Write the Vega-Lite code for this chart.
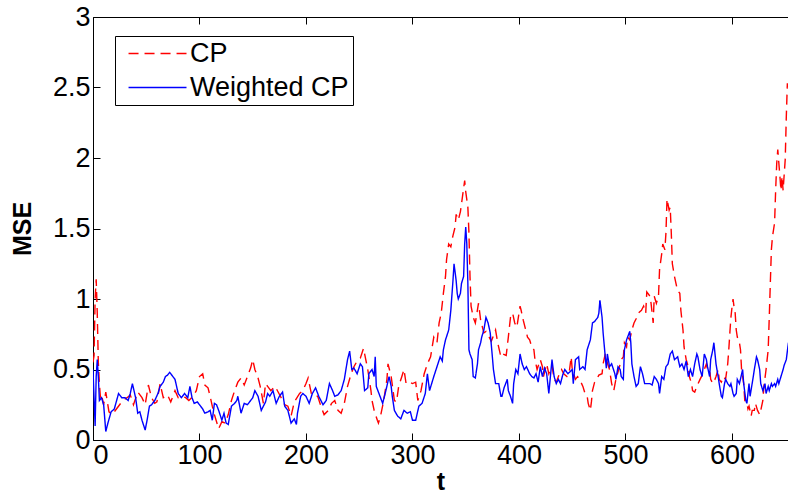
{
  "$schema": "https://vega.github.io/schema/vega-lite/v6.json",
  "width": 695,
  "height": 423,
  "autosize": {"type": "none"},
  "padding": {"left": 93, "top": 17, "right": 0, "bottom": 60},
  "background": "white",
  "config": {
    "view": {"stroke": null},
    "font": "Liberation Sans",
    "axis": {
      "grid": false,
      "domainColor": "black",
      "domainWidth": 1,
      "tickColor": "black",
      "tickWidth": 1,
      "tickSize": -7,
      "labelColor": "black",
      "labelFont": "Liberation Sans",
      "labelFontSize": 27,
      "titleFont": "Liberation Sans",
      "titleFontSize": 25,
      "titleFontWeight": "bold",
      "titleColor": "black"
    },
    "legend": {
      "orient": "none",
      "legendX": 22,
      "legendY": 19,
      "title": null,
      "symbolType": "M-0.33,0H4.5",
      "symbolSize": 576,
      "symbolStrokeWidth": 1.4,
      "labelFont": "Liberation Sans",
      "labelFontSize": 27,
      "labelColor": "black",
      "labelOffset": 44,
      "labelLimit": 400,
      "padding": 4,
      "rowPadding": 6,
      "strokeColor": "black",
      "fillColor": "white"
    }
  },
  "data": {
    "values": [
      {"t":0,"mse":0.55,"method":"CP"},{"t":1,"mse":0.6,"method":"CP"},{"t":2,"mse":1.0,"method":"CP"},{"t":3,"mse":1.14,"method":"CP"},{"t":4,"mse":0.9,"method":"CP"},{"t":5,"mse":0.55,"method":"CP"},{"t":6,"mse":0.4,"method":"CP"},{"t":7,"mse":0.3,"method":"CP"},{"t":8,"mse":0.32,"method":"CP"},{"t":10,"mse":0.25,"method":"CP"},{"t":12,"mse":0.34,"method":"CP"},{"t":15,"mse":0.2,"method":"CP"},{"t":18,"mse":0.18,"method":"CP"},{"t":22,"mse":0.22,"method":"CP"},{"t":25,"mse":0.25,"method":"CP"},{"t":28,"mse":0.28,"method":"CP"},{"t":32,"mse":0.3,"method":"CP"},{"t":35,"mse":0.32,"method":"CP"},{"t":38,"mse":0.25,"method":"CP"},{"t":42,"mse":0.34,"method":"CP"},{"t":46,"mse":0.3,"method":"CP"},{"t":49,"mse":0.25,"method":"CP"},{"t":52,"mse":0.39,"method":"CP"},{"t":55,"mse":0.3,"method":"CP"},{"t":58,"mse":0.26,"method":"CP"},{"t":60,"mse":0.27,"method":"CP"},{"t":63,"mse":0.4,"method":"CP"},{"t":66,"mse":0.3,"method":"CP"},{"t":70,"mse":0.32,"method":"CP"},{"t":73,"mse":0.27,"method":"CP"},{"t":77,"mse":0.35,"method":"CP"},{"t":80,"mse":0.3,"method":"CP"},{"t":84,"mse":0.31,"method":"CP"},{"t":87,"mse":0.3,"method":"CP"},{"t":90,"mse":0.28,"method":"CP"},{"t":94,"mse":0.31,"method":"CP"},{"t":97,"mse":0.35,"method":"CP"},{"t":100,"mse":0.45,"method":"CP"},{"t":103,"mse":0.47,"method":"CP"},{"t":105,"mse":0.39,"method":"CP"},{"t":108,"mse":0.37,"method":"CP"},{"t":110,"mse":0.31,"method":"CP"},{"t":112,"mse":0.24,"method":"CP"},{"t":114,"mse":0.18,"method":"CP"},{"t":118,"mse":0.08,"method":"CP"},{"t":121,"mse":0.13,"method":"CP"},{"t":124,"mse":0.12,"method":"CP"},{"t":127,"mse":0.18,"method":"CP"},{"t":130,"mse":0.28,"method":"CP"},{"t":133,"mse":0.35,"method":"CP"},{"t":136,"mse":0.41,"method":"CP"},{"t":139,"mse":0.44,"method":"CP"},{"t":142,"mse":0.39,"method":"CP"},{"t":145,"mse":0.45,"method":"CP"},{"t":148,"mse":0.51,"method":"CP"},{"t":150,"mse":0.57,"method":"CP"},{"t":152,"mse":0.5,"method":"CP"},{"t":155,"mse":0.44,"method":"CP"},{"t":157,"mse":0.38,"method":"CP"},{"t":160,"mse":0.26,"method":"CP"},{"t":162,"mse":0.4,"method":"CP"},{"t":164,"mse":0.38,"method":"CP"},{"t":167,"mse":0.35,"method":"CP"},{"t":171,"mse":0.38,"method":"CP"},{"t":176,"mse":0.31,"method":"CP"},{"t":180,"mse":0.25,"method":"CP"},{"t":183,"mse":0.24,"method":"CP"},{"t":186,"mse":0.17,"method":"CP"},{"t":189,"mse":0.27,"method":"CP"},{"t":194,"mse":0.33,"method":"CP"},{"t":197,"mse":0.35,"method":"CP"},{"t":200,"mse":0.4,"method":"CP"},{"t":202,"mse":0.44,"method":"CP"},{"t":205,"mse":0.33,"method":"CP"},{"t":208,"mse":0.31,"method":"CP"},{"t":211,"mse":0.31,"method":"CP"},{"t":214,"mse":0.24,"method":"CP"},{"t":217,"mse":0.18,"method":"CP"},{"t":221,"mse":0.21,"method":"CP"},{"t":224,"mse":0.26,"method":"CP"},{"t":227,"mse":0.28,"method":"CP"},{"t":230,"mse":0.21,"method":"CP"},{"t":233,"mse":0.19,"method":"CP"},{"t":236,"mse":0.26,"method":"CP"},{"t":239,"mse":0.38,"method":"CP"},{"t":242,"mse":0.46,"method":"CP"},{"t":245,"mse":0.52,"method":"CP"},{"t":248,"mse":0.56,"method":"CP"},{"t":251,"mse":0.58,"method":"CP"},{"t":254,"mse":0.65,"method":"CP"},{"t":258,"mse":0.5,"method":"CP"},{"t":261,"mse":0.35,"method":"CP"},{"t":262,"mse":0.28,"method":"CP"},{"t":264,"mse":0.21,"method":"CP"},{"t":267,"mse":0.14,"method":"CP"},{"t":268,"mse":0.12,"method":"CP"},{"t":270,"mse":0.17,"method":"CP"},{"t":273,"mse":0.28,"method":"CP"},{"t":276,"mse":0.43,"method":"CP"},{"t":277,"mse":0.54,"method":"CP"},{"t":280,"mse":0.45,"method":"CP"},{"t":283,"mse":0.28,"method":"CP"},{"t":285,"mse":0.27,"method":"CP"},{"t":287,"mse":0.38,"method":"CP"},{"t":290,"mse":0.45,"method":"CP"},{"t":292,"mse":0.5,"method":"CP"},{"t":294,"mse":0.4,"method":"CP"},{"t":297,"mse":0.41,"method":"CP"},{"t":300,"mse":0.4,"method":"CP"},{"t":303,"mse":0.41,"method":"CP"},{"t":305,"mse":0.28,"method":"CP"},{"t":308,"mse":0.35,"method":"CP"},{"t":311,"mse":0.47,"method":"CP"},{"t":314,"mse":0.54,"method":"CP"},{"t":317,"mse":0.59,"method":"CP"},{"t":320,"mse":0.73,"method":"CP"},{"t":323,"mse":0.69,"method":"CP"},{"t":325,"mse":0.83,"method":"CP"},{"t":327,"mse":0.9,"method":"CP"},{"t":329,"mse":1.04,"method":"CP"},{"t":331,"mse":1.16,"method":"CP"},{"t":332,"mse":1.28,"method":"CP"},{"t":334,"mse":1.39,"method":"CP"},{"t":336,"mse":1.37,"method":"CP"},{"t":338,"mse":1.45,"method":"CP"},{"t":340,"mse":1.51,"method":"CP"},{"t":341,"mse":1.6,"method":"CP"},{"t":343,"mse":1.56,"method":"CP"},{"t":345,"mse":1.62,"method":"CP"},{"t":347,"mse":1.73,"method":"CP"},{"t":349,"mse":1.84,"method":"CP"},{"t":350,"mse":1.76,"method":"CP"},{"t":352,"mse":1.65,"method":"CP"},{"t":353,"mse":1.47,"method":"CP"},{"t":354,"mse":1.16,"method":"CP"},{"t":355,"mse":0.95,"method":"CP"},{"t":357,"mse":0.87,"method":"CP"},{"t":359,"mse":0.83,"method":"CP"},{"t":362,"mse":0.97,"method":"CP"},{"t":364,"mse":0.85,"method":"CP"},{"t":367,"mse":0.76,"method":"CP"},{"t":369,"mse":0.77,"method":"CP"},{"t":372,"mse":0.73,"method":"CP"},{"t":374,"mse":0.7,"method":"CP"},{"t":378,"mse":0.78,"method":"CP"},{"t":380,"mse":0.69,"method":"CP"},{"t":383,"mse":0.59,"method":"CP"},{"t":385,"mse":0.61,"method":"CP"},{"t":388,"mse":0.6,"method":"CP"},{"t":390,"mse":0.73,"method":"CP"},{"t":392,"mse":0.87,"method":"CP"},{"t":394,"mse":0.9,"method":"CP"},{"t":396,"mse":0.83,"method":"CP"},{"t":398,"mse":0.8,"method":"CP"},{"t":401,"mse":0.95,"method":"CP"},{"t":402,"mse":0.92,"method":"CP"},{"t":404,"mse":0.85,"method":"CP"},{"t":408,"mse":0.73,"method":"CP"},{"t":410,"mse":0.71,"method":"CP"},{"t":412,"mse":0.66,"method":"CP"},{"t":414,"mse":0.64,"method":"CP"},{"t":415,"mse":0.57,"method":"CP"},{"t":417,"mse":0.5,"method":"CP"},{"t":420,"mse":0.57,"method":"CP"},{"t":422,"mse":0.52,"method":"CP"},{"t":423,"mse":0.45,"method":"CP"},{"t":426,"mse":0.54,"method":"CP"},{"t":428,"mse":0.47,"method":"CP"},{"t":431,"mse":0.53,"method":"CP"},{"t":433,"mse":0.43,"method":"CP"},{"t":435,"mse":0.41,"method":"CP"},{"t":438,"mse":0.47,"method":"CP"},{"t":440,"mse":0.5,"method":"CP"},{"t":442,"mse":0.47,"method":"CP"},{"t":445,"mse":0.45,"method":"CP"},{"t":447,"mse":0.47,"method":"CP"},{"t":449,"mse":0.59,"method":"CP"},{"t":450,"mse":0.5,"method":"CP"},{"t":453,"mse":0.43,"method":"CP"},{"t":455,"mse":0.45,"method":"CP"},{"t":457,"mse":0.43,"method":"CP"},{"t":460,"mse":0.38,"method":"CP"},{"t":462,"mse":0.33,"method":"CP"},{"t":464,"mse":0.31,"method":"CP"},{"t":465,"mse":0.26,"method":"CP"},{"t":467,"mse":0.21,"method":"CP"},{"t":468,"mse":0.27,"method":"CP"},{"t":469,"mse":0.35,"method":"CP"},{"t":471,"mse":0.41,"method":"CP"},{"t":473,"mse":0.43,"method":"CP"},{"t":475,"mse":0.46,"method":"CP"},{"t":478,"mse":0.47,"method":"CP"},{"t":479,"mse":0.54,"method":"CP"},{"t":481,"mse":0.61,"method":"CP"},{"t":482,"mse":0.57,"method":"CP"},{"t":485,"mse":0.5,"method":"CP"},{"t":487,"mse":0.4,"method":"CP"},{"t":489,"mse":0.35,"method":"CP"},{"t":491,"mse":0.43,"method":"CP"},{"t":494,"mse":0.51,"method":"CP"},{"t":496,"mse":0.57,"method":"CP"},{"t":498,"mse":0.59,"method":"CP"},{"t":499,"mse":0.69,"method":"CP"},{"t":501,"mse":0.66,"method":"CP"},{"t":502,"mse":0.73,"method":"CP"},{"t":504,"mse":0.71,"method":"CP"},{"t":506,"mse":0.78,"method":"CP"},{"t":508,"mse":0.83,"method":"CP"},{"t":510,"mse":0.86,"method":"CP"},{"t":512,"mse":0.9,"method":"CP"},{"t":515,"mse":0.92,"method":"CP"},{"t":517,"mse":0.95,"method":"CP"},{"t":519,"mse":0.9,"method":"CP"},{"t":520,"mse":1.05,"method":"CP"},{"t":523,"mse":1.02,"method":"CP"},{"t":524,"mse":0.97,"method":"CP"},{"t":526,"mse":0.83,"method":"CP"},{"t":527,"mse":1.02,"method":"CP"},{"t":529,"mse":0.97,"method":"CP"},{"t":531,"mse":1.02,"method":"CP"},{"t":532,"mse":1.21,"method":"CP"},{"t":534,"mse":1.32,"method":"CP"},{"t":535,"mse":1.39,"method":"CP"},{"t":537,"mse":1.35,"method":"CP"},{"t":538,"mse":1.47,"method":"CP"},{"t":539,"mse":1.71,"method":"CP"},{"t":541,"mse":1.63,"method":"CP"},{"t":542,"mse":1.65,"method":"CP"},{"t":543,"mse":1.47,"method":"CP"},{"t":544,"mse":1.25,"method":"CP"},{"t":546,"mse":1.16,"method":"CP"},{"t":548,"mse":1.09,"method":"CP"},{"t":549,"mse":1.06,"method":"CP"},{"t":551,"mse":1.04,"method":"CP"},{"t":552,"mse":0.92,"method":"CP"},{"t":554,"mse":0.78,"method":"CP"},{"t":555,"mse":0.66,"method":"CP"},{"t":557,"mse":0.57,"method":"CP"},{"t":559,"mse":0.52,"method":"CP"},{"t":560,"mse":0.45,"method":"CP"},{"t":562,"mse":0.4,"method":"CP"},{"t":563,"mse":0.35,"method":"CP"},{"t":565,"mse":0.34,"method":"CP"},{"t":567,"mse":0.38,"method":"CP"},{"t":570,"mse":0.43,"method":"CP"},{"t":572,"mse":0.46,"method":"CP"},{"t":574,"mse":0.5,"method":"CP"},{"t":576,"mse":0.54,"method":"CP"},{"t":577,"mse":0.5,"method":"CP"},{"t":579,"mse":0.5,"method":"CP"},{"t":580,"mse":0.43,"method":"CP"},{"t":582,"mse":0.4,"method":"CP"},{"t":584,"mse":0.43,"method":"CP"},{"t":585,"mse":0.45,"method":"CP"},{"t":587,"mse":0.5,"method":"CP"},{"t":588,"mse":0.43,"method":"CP"},{"t":590,"mse":0.41,"method":"CP"},{"t":592,"mse":0.45,"method":"CP"},{"t":594,"mse":0.43,"method":"CP"},{"t":596,"mse":0.54,"method":"CP"},{"t":597,"mse":0.64,"method":"CP"},{"t":598,"mse":0.76,"method":"CP"},{"t":599,"mse":0.87,"method":"CP"},{"t":600,"mse":0.94,"method":"CP"},{"t":601,"mse":1.0,"method":"CP"},{"t":602,"mse":0.94,"method":"CP"},{"t":603,"mse":0.9,"method":"CP"},{"t":604,"mse":0.78,"method":"CP"},{"t":605,"mse":0.73,"method":"CP"},{"t":607,"mse":0.69,"method":"CP"},{"t":608,"mse":0.64,"method":"CP"},{"t":609,"mse":0.5,"method":"CP"},{"t":611,"mse":0.4,"method":"CP"},{"t":612,"mse":0.28,"method":"CP"},{"t":614,"mse":0.26,"method":"CP"},{"t":615,"mse":0.22,"method":"CP"},{"t":616,"mse":0.24,"method":"CP"},{"t":618,"mse":0.17,"method":"CP"},{"t":619,"mse":0.21,"method":"CP"},{"t":621,"mse":0.21,"method":"CP"},{"t":622,"mse":0.26,"method":"CP"},{"t":624,"mse":0.21,"method":"CP"},{"t":626,"mse":0.18,"method":"CP"},{"t":627,"mse":0.21,"method":"CP"},{"t":629,"mse":0.28,"method":"CP"},{"t":630,"mse":0.38,"method":"CP"},{"t":632,"mse":0.5,"method":"CP"},{"t":634,"mse":0.64,"method":"CP"},{"t":635,"mse":0.87,"method":"CP"},{"t":636,"mse":1.11,"method":"CP"},{"t":637,"mse":1.35,"method":"CP"},{"t":638,"mse":1.44,"method":"CP"},{"t":640,"mse":1.54,"method":"CP"},{"t":641,"mse":1.77,"method":"CP"},{"t":642,"mse":1.96,"method":"CP"},{"t":643,"mse":2.06,"method":"CP"},{"t":645,"mse":1.87,"method":"CP"},{"t":646,"mse":1.77,"method":"CP"},{"t":647,"mse":1.87,"method":"CP"},{"t":648,"mse":1.77,"method":"CP"},{"t":650,"mse":1.99,"method":"CP"},{"t":651,"mse":2.29,"method":"CP"},{"t":652,"mse":2.53,"method":"CP"},{"t":653,"mse":2.46,"method":"CP"},
      {"t":0,"mse":0.5,"method":"Weighted CP"},{"t":1,"mse":0.3,"method":"Weighted CP"},{"t":2,"mse":0.1,"method":"Weighted CP"},{"t":3,"mse":0.45,"method":"Weighted CP"},{"t":4,"mse":0.57,"method":"Weighted CP"},{"t":5,"mse":0.45,"method":"Weighted CP"},{"t":6,"mse":0.28,"method":"Weighted CP"},{"t":8,"mse":0.3,"method":"Weighted CP"},{"t":10,"mse":0.25,"method":"Weighted CP"},{"t":12,"mse":0.06,"method":"Weighted CP"},{"t":14,"mse":0.12,"method":"Weighted CP"},{"t":17,"mse":0.2,"method":"Weighted CP"},{"t":20,"mse":0.22,"method":"Weighted CP"},{"t":24,"mse":0.33,"method":"Weighted CP"},{"t":27,"mse":0.3,"method":"Weighted CP"},{"t":30,"mse":0.3,"method":"Weighted CP"},{"t":33,"mse":0.28,"method":"Weighted CP"},{"t":35,"mse":0.33,"method":"Weighted CP"},{"t":37,"mse":0.4,"method":"Weighted CP"},{"t":40,"mse":0.3,"method":"Weighted CP"},{"t":42,"mse":0.19,"method":"Weighted CP"},{"t":44,"mse":0.2,"method":"Weighted CP"},{"t":46,"mse":0.14,"method":"Weighted CP"},{"t":49,"mse":0.07,"method":"Weighted CP"},{"t":51,"mse":0.15,"method":"Weighted CP"},{"t":53,"mse":0.24,"method":"Weighted CP"},{"t":55,"mse":0.25,"method":"Weighted CP"},{"t":58,"mse":0.28,"method":"Weighted CP"},{"t":61,"mse":0.33,"method":"Weighted CP"},{"t":63,"mse":0.38,"method":"Weighted CP"},{"t":66,"mse":0.41,"method":"Weighted CP"},{"t":68,"mse":0.45,"method":"Weighted CP"},{"t":70,"mse":0.46,"method":"Weighted CP"},{"t":72,"mse":0.48,"method":"Weighted CP"},{"t":75,"mse":0.45,"method":"Weighted CP"},{"t":77,"mse":0.43,"method":"Weighted CP"},{"t":80,"mse":0.33,"method":"Weighted CP"},{"t":83,"mse":0.3,"method":"Weighted CP"},{"t":86,"mse":0.33,"method":"Weighted CP"},{"t":89,"mse":0.3,"method":"Weighted CP"},{"t":91,"mse":0.38,"method":"Weighted CP"},{"t":93,"mse":0.3,"method":"Weighted CP"},{"t":95,"mse":0.26,"method":"Weighted CP"},{"t":98,"mse":0.27,"method":"Weighted CP"},{"t":100,"mse":0.25,"method":"Weighted CP"},{"t":103,"mse":0.22,"method":"Weighted CP"},{"t":105,"mse":0.19,"method":"Weighted CP"},{"t":108,"mse":0.2,"method":"Weighted CP"},{"t":110,"mse":0.21,"method":"Weighted CP"},{"t":112,"mse":0.14,"method":"Weighted CP"},{"t":114,"mse":0.26,"method":"Weighted CP"},{"t":116,"mse":0.25,"method":"Weighted CP"},{"t":118,"mse":0.21,"method":"Weighted CP"},{"t":121,"mse":0.14,"method":"Weighted CP"},{"t":123,"mse":0.19,"method":"Weighted CP"},{"t":125,"mse":0.12,"method":"Weighted CP"},{"t":127,"mse":0.11,"method":"Weighted CP"},{"t":130,"mse":0.24,"method":"Weighted CP"},{"t":133,"mse":0.26,"method":"Weighted CP"},{"t":135,"mse":0.28,"method":"Weighted CP"},{"t":136,"mse":0.31,"method":"Weighted CP"},{"t":139,"mse":0.19,"method":"Weighted CP"},{"t":142,"mse":0.26,"method":"Weighted CP"},{"t":145,"mse":0.25,"method":"Weighted CP"},{"t":147,"mse":0.27,"method":"Weighted CP"},{"t":150,"mse":0.3,"method":"Weighted CP"},{"t":152,"mse":0.35,"method":"Weighted CP"},{"t":155,"mse":0.31,"method":"Weighted CP"},{"t":158,"mse":0.21,"method":"Weighted CP"},{"t":160,"mse":0.24,"method":"Weighted CP"},{"t":162,"mse":0.27,"method":"Weighted CP"},{"t":164,"mse":0.33,"method":"Weighted CP"},{"t":166,"mse":0.31,"method":"Weighted CP"},{"t":169,"mse":0.35,"method":"Weighted CP"},{"t":172,"mse":0.26,"method":"Weighted CP"},{"t":175,"mse":0.31,"method":"Weighted CP"},{"t":178,"mse":0.34,"method":"Weighted CP"},{"t":180,"mse":0.24,"method":"Weighted CP"},{"t":183,"mse":0.21,"method":"Weighted CP"},{"t":186,"mse":0.12,"method":"Weighted CP"},{"t":189,"mse":0.15,"method":"Weighted CP"},{"t":191,"mse":0.11,"method":"Weighted CP"},{"t":192,"mse":0.19,"method":"Weighted CP"},{"t":195,"mse":0.31,"method":"Weighted CP"},{"t":197,"mse":0.33,"method":"Weighted CP"},{"t":200,"mse":0.31,"method":"Weighted CP"},{"t":203,"mse":0.26,"method":"Weighted CP"},{"t":206,"mse":0.33,"method":"Weighted CP"},{"t":209,"mse":0.37,"method":"Weighted CP"},{"t":212,"mse":0.31,"method":"Weighted CP"},{"t":216,"mse":0.25,"method":"Weighted CP"},{"t":219,"mse":0.28,"method":"Weighted CP"},{"t":222,"mse":0.4,"method":"Weighted CP"},{"t":225,"mse":0.35,"method":"Weighted CP"},{"t":227,"mse":0.31,"method":"Weighted CP"},{"t":230,"mse":0.32,"method":"Weighted CP"},{"t":233,"mse":0.35,"method":"Weighted CP"},{"t":236,"mse":0.43,"method":"Weighted CP"},{"t":239,"mse":0.57,"method":"Weighted CP"},{"t":241,"mse":0.63,"method":"Weighted CP"},{"t":243,"mse":0.5,"method":"Weighted CP"},{"t":245,"mse":0.51,"method":"Weighted CP"},{"t":248,"mse":0.47,"method":"Weighted CP"},{"t":251,"mse":0.54,"method":"Weighted CP"},{"t":253,"mse":0.52,"method":"Weighted CP"},{"t":255,"mse":0.35,"method":"Weighted CP"},{"t":258,"mse":0.37,"method":"Weighted CP"},{"t":259,"mse":0.47,"method":"Weighted CP"},{"t":262,"mse":0.5,"method":"Weighted CP"},{"t":264,"mse":0.45,"method":"Weighted CP"},{"t":265,"mse":0.59,"method":"Weighted CP"},{"t":266,"mse":0.38,"method":"Weighted CP"},{"t":268,"mse":0.34,"method":"Weighted CP"},{"t":272,"mse":0.26,"method":"Weighted CP"},{"t":275,"mse":0.35,"method":"Weighted CP"},{"t":278,"mse":0.45,"method":"Weighted CP"},{"t":280,"mse":0.38,"method":"Weighted CP"},{"t":281,"mse":0.31,"method":"Weighted CP"},{"t":283,"mse":0.21,"method":"Weighted CP"},{"t":286,"mse":0.17,"method":"Weighted CP"},{"t":289,"mse":0.15,"method":"Weighted CP"},{"t":292,"mse":0.21,"method":"Weighted CP"},{"t":295,"mse":0.19,"method":"Weighted CP"},{"t":298,"mse":0.2,"method":"Weighted CP"},{"t":300,"mse":0.14,"method":"Weighted CP"},{"t":303,"mse":0.14,"method":"Weighted CP"},{"t":306,"mse":0.24,"method":"Weighted CP"},{"t":309,"mse":0.26,"method":"Weighted CP"},{"t":312,"mse":0.33,"method":"Weighted CP"},{"t":314,"mse":0.47,"method":"Weighted CP"},{"t":316,"mse":0.35,"method":"Weighted CP"},{"t":320,"mse":0.45,"method":"Weighted CP"},{"t":323,"mse":0.52,"method":"Weighted CP"},{"t":326,"mse":0.59,"method":"Weighted CP"},{"t":328,"mse":0.56,"method":"Weighted CP"},{"t":329,"mse":0.64,"method":"Weighted CP"},{"t":331,"mse":0.71,"method":"Weighted CP"},{"t":334,"mse":0.78,"method":"Weighted CP"},{"t":336,"mse":0.92,"method":"Weighted CP"},{"t":338,"mse":1.13,"method":"Weighted CP"},{"t":339,"mse":1.25,"method":"Weighted CP"},{"t":341,"mse":1.13,"method":"Weighted CP"},{"t":342,"mse":1.04,"method":"Weighted CP"},{"t":343,"mse":1.0,"method":"Weighted CP"},{"t":345,"mse":1.04,"method":"Weighted CP"},{"t":346,"mse":1.11,"method":"Weighted CP"},{"t":348,"mse":1.16,"method":"Weighted CP"},{"t":349,"mse":1.39,"method":"Weighted CP"},{"t":350,"mse":1.51,"method":"Weighted CP"},{"t":351,"mse":1.39,"method":"Weighted CP"},{"t":352,"mse":1.11,"method":"Weighted CP"},{"t":353,"mse":0.64,"method":"Weighted CP"},{"t":354,"mse":0.61,"method":"Weighted CP"},{"t":356,"mse":0.57,"method":"Weighted CP"},{"t":357,"mse":0.45,"method":"Weighted CP"},{"t":359,"mse":0.44,"method":"Weighted CP"},{"t":361,"mse":0.54,"method":"Weighted CP"},{"t":362,"mse":0.64,"method":"Weighted CP"},{"t":364,"mse":0.69,"method":"Weighted CP"},{"t":365,"mse":0.73,"method":"Weighted CP"},{"t":367,"mse":0.78,"method":"Weighted CP"},{"t":369,"mse":0.87,"method":"Weighted CP"},{"t":371,"mse":0.83,"method":"Weighted CP"},{"t":373,"mse":0.76,"method":"Weighted CP"},{"t":375,"mse":0.59,"method":"Weighted CP"},{"t":376,"mse":0.5,"method":"Weighted CP"},{"t":378,"mse":0.4,"method":"Weighted CP"},{"t":381,"mse":0.4,"method":"Weighted CP"},{"t":383,"mse":0.31,"method":"Weighted CP"},{"t":384,"mse":0.31,"method":"Weighted CP"},{"t":386,"mse":0.37,"method":"Weighted CP"},{"t":389,"mse":0.43,"method":"Weighted CP"},{"t":390,"mse":0.35,"method":"Weighted CP"},{"t":392,"mse":0.31,"method":"Weighted CP"},{"t":394,"mse":0.26,"method":"Weighted CP"},{"t":395,"mse":0.4,"method":"Weighted CP"},{"t":397,"mse":0.5,"method":"Weighted CP"},{"t":399,"mse":0.47,"method":"Weighted CP"},{"t":401,"mse":0.61,"method":"Weighted CP"},{"t":403,"mse":0.54,"method":"Weighted CP"},{"t":405,"mse":0.5,"method":"Weighted CP"},{"t":407,"mse":0.52,"method":"Weighted CP"},{"t":410,"mse":0.47,"method":"Weighted CP"},{"t":412,"mse":0.45,"method":"Weighted CP"},{"t":414,"mse":0.44,"method":"Weighted CP"},{"t":416,"mse":0.47,"method":"Weighted CP"},{"t":418,"mse":0.41,"method":"Weighted CP"},{"t":420,"mse":0.52,"method":"Weighted CP"},{"t":422,"mse":0.45,"method":"Weighted CP"},{"t":424,"mse":0.51,"method":"Weighted CP"},{"t":426,"mse":0.47,"method":"Weighted CP"},{"t":428,"mse":0.33,"method":"Weighted CP"},{"t":431,"mse":0.57,"method":"Weighted CP"},{"t":433,"mse":0.45,"method":"Weighted CP"},{"t":435,"mse":0.4,"method":"Weighted CP"},{"t":437,"mse":0.43,"method":"Weighted CP"},{"t":439,"mse":0.4,"method":"Weighted CP"},{"t":441,"mse":0.46,"method":"Weighted CP"},{"t":443,"mse":0.5,"method":"Weighted CP"},{"t":446,"mse":0.47,"method":"Weighted CP"},{"t":450,"mse":0.5,"method":"Weighted CP"},{"t":451,"mse":0.4,"method":"Weighted CP"},{"t":453,"mse":0.57,"method":"Weighted CP"},{"t":456,"mse":0.59,"method":"Weighted CP"},{"t":457,"mse":0.5,"method":"Weighted CP"},{"t":460,"mse":0.52,"method":"Weighted CP"},{"t":462,"mse":0.5,"method":"Weighted CP"},{"t":464,"mse":0.64,"method":"Weighted CP"},{"t":467,"mse":0.71,"method":"Weighted CP"},{"t":469,"mse":0.83,"method":"Weighted CP"},{"t":471,"mse":0.84,"method":"Weighted CP"},{"t":474,"mse":0.87,"method":"Weighted CP"},{"t":475,"mse":0.9,"method":"Weighted CP"},{"t":476,"mse":0.99,"method":"Weighted CP"},{"t":478,"mse":0.87,"method":"Weighted CP"},{"t":479,"mse":0.76,"method":"Weighted CP"},{"t":481,"mse":0.59,"method":"Weighted CP"},{"t":482,"mse":0.51,"method":"Weighted CP"},{"t":483,"mse":0.61,"method":"Weighted CP"},{"t":485,"mse":0.52,"method":"Weighted CP"},{"t":487,"mse":0.54,"method":"Weighted CP"},{"t":490,"mse":0.47,"method":"Weighted CP"},{"t":491,"mse":0.43,"method":"Weighted CP"},{"t":493,"mse":0.52,"method":"Weighted CP"},{"t":495,"mse":0.5,"method":"Weighted CP"},{"t":496,"mse":0.45,"method":"Weighted CP"},{"t":498,"mse":0.43,"method":"Weighted CP"},{"t":499,"mse":0.64,"method":"Weighted CP"},{"t":501,"mse":0.71,"method":"Weighted CP"},{"t":502,"mse":0.73,"method":"Weighted CP"},{"t":504,"mse":0.77,"method":"Weighted CP"},{"t":505,"mse":0.69,"method":"Weighted CP"},{"t":506,"mse":0.54,"method":"Weighted CP"},{"t":508,"mse":0.45,"method":"Weighted CP"},{"t":510,"mse":0.38,"method":"Weighted CP"},{"t":512,"mse":0.4,"method":"Weighted CP"},{"t":514,"mse":0.52,"method":"Weighted CP"},{"t":516,"mse":0.47,"method":"Weighted CP"},{"t":518,"mse":0.4,"method":"Weighted CP"},{"t":521,"mse":0.4,"method":"Weighted CP"},{"t":523,"mse":0.4,"method":"Weighted CP"},{"t":525,"mse":0.39,"method":"Weighted CP"},{"t":527,"mse":0.45,"method":"Weighted CP"},{"t":529,"mse":0.43,"method":"Weighted CP"},{"t":531,"mse":0.4,"method":"Weighted CP"},{"t":532,"mse":0.33,"method":"Weighted CP"},{"t":534,"mse":0.45,"method":"Weighted CP"},{"t":536,"mse":0.43,"method":"Weighted CP"},{"t":538,"mse":0.52,"method":"Weighted CP"},{"t":540,"mse":0.54,"method":"Weighted CP"},{"t":542,"mse":0.61,"method":"Weighted CP"},{"t":544,"mse":0.63,"method":"Weighted CP"},{"t":546,"mse":0.57,"method":"Weighted CP"},{"t":549,"mse":0.59,"method":"Weighted CP"},{"t":551,"mse":0.52,"method":"Weighted CP"},{"t":553,"mse":0.54,"method":"Weighted CP"},{"t":555,"mse":0.5,"method":"Weighted CP"},{"t":557,"mse":0.56,"method":"Weighted CP"},{"t":559,"mse":0.45,"method":"Weighted CP"},{"t":561,"mse":0.5,"method":"Weighted CP"},{"t":563,"mse":0.45,"method":"Weighted CP"},{"t":565,"mse":0.54,"method":"Weighted CP"},{"t":567,"mse":0.61,"method":"Weighted CP"},{"t":568,"mse":0.59,"method":"Weighted CP"},{"t":570,"mse":0.5,"method":"Weighted CP"},{"t":572,"mse":0.45,"method":"Weighted CP"},{"t":574,"mse":0.61,"method":"Weighted CP"},{"t":576,"mse":0.57,"method":"Weighted CP"},{"t":577,"mse":0.52,"method":"Weighted CP"},{"t":579,"mse":0.45,"method":"Weighted CP"},{"t":580,"mse":0.57,"method":"Weighted CP"},{"t":582,"mse":0.64,"method":"Weighted CP"},{"t":583,"mse":0.69,"method":"Weighted CP"},{"t":585,"mse":0.54,"method":"Weighted CP"},{"t":587,"mse":0.45,"method":"Weighted CP"},{"t":588,"mse":0.4,"method":"Weighted CP"},{"t":590,"mse":0.31,"method":"Weighted CP"},{"t":591,"mse":0.3,"method":"Weighted CP"},{"t":593,"mse":0.4,"method":"Weighted CP"},{"t":594,"mse":0.43,"method":"Weighted CP"},{"t":596,"mse":0.4,"method":"Weighted CP"},{"t":598,"mse":0.38,"method":"Weighted CP"},{"t":599,"mse":0.4,"method":"Weighted CP"},{"t":601,"mse":0.33,"method":"Weighted CP"},{"t":602,"mse":0.31,"method":"Weighted CP"},{"t":604,"mse":0.33,"method":"Weighted CP"},{"t":605,"mse":0.43,"method":"Weighted CP"},{"t":607,"mse":0.4,"method":"Weighted CP"},{"t":610,"mse":0.5,"method":"Weighted CP"},{"t":611,"mse":0.4,"method":"Weighted CP"},{"t":613,"mse":0.28,"method":"Weighted CP"},{"t":614,"mse":0.26,"method":"Weighted CP"},{"t":616,"mse":0.4,"method":"Weighted CP"},{"t":617,"mse":0.31,"method":"Weighted CP"},{"t":620,"mse":0.45,"method":"Weighted CP"},{"t":621,"mse":0.5,"method":"Weighted CP"},{"t":623,"mse":0.59,"method":"Weighted CP"},{"t":624,"mse":0.57,"method":"Weighted CP"},{"t":626,"mse":0.5,"method":"Weighted CP"},{"t":627,"mse":0.4,"method":"Weighted CP"},{"t":629,"mse":0.35,"method":"Weighted CP"},{"t":631,"mse":0.4,"method":"Weighted CP"},{"t":632,"mse":0.33,"method":"Weighted CP"},{"t":634,"mse":0.38,"method":"Weighted CP"},{"t":635,"mse":0.35,"method":"Weighted CP"},{"t":637,"mse":0.4,"method":"Weighted CP"},{"t":638,"mse":0.38,"method":"Weighted CP"},{"t":640,"mse":0.4,"method":"Weighted CP"},{"t":641,"mse":0.38,"method":"Weighted CP"},{"t":643,"mse":0.43,"method":"Weighted CP"},{"t":644,"mse":0.4,"method":"Weighted CP"},{"t":646,"mse":0.45,"method":"Weighted CP"},{"t":648,"mse":0.5,"method":"Weighted CP"},{"t":649,"mse":0.53,"method":"Weighted CP"},{"t":651,"mse":0.57,"method":"Weighted CP"},{"t":653,"mse":0.69,"method":"Weighted CP"}
    ]
  },
  "layer": [
    {
      "mark": {"type": "line", "strokeWidth": 1.4, "clip": true},
      "encoding": {
        "x": {
          "field": "t",
          "type": "quantitative",
          "scale": {"domain": [0, 652.6], "nice": false, "zero": false},
          "axis": {"orient": "bottom", "values": [0, 100, 200, 300, 400, 500, 600], "format": "d", "title": "t", "labelPadding": 9, "titlePadding": 1}
        },
        "y": {
          "field": "mse",
          "type": "quantitative",
          "scale": {"domain": [0, 3], "nice": false},
          "axis": {"values": [0, 0.5, 1, 1.5, 2, 2.5, 3], "format": "~g", "title": "MSE", "labelPadding": 10, "titlePadding": 17}
        },
        "color": {
          "field": "method",
          "type": "nominal",
          "scale": {"domain": ["CP", "Weighted CP"], "range": ["#ff0000", "#0000ff"]}
        },
        "strokeDash": {
          "field": "method",
          "type": "nominal",
          "scale": {"domain": ["CP", "Weighted CP"], "range": [[10, 6], [1, 0]]}
        }
      }
    },
    {
      "mark": {"type": "line", "opacity": 0},
      "encoding": {
        "x": {
          "field": "t",
          "type": "quantitative",
          "axis": {"orient": "top", "values": [0, 100, 200, 300, 400, 500, 600], "labels": false, "title": null}
        }
      }
    }
  ],
  "resolve": {"axis": {"x": "independent"}}
}
